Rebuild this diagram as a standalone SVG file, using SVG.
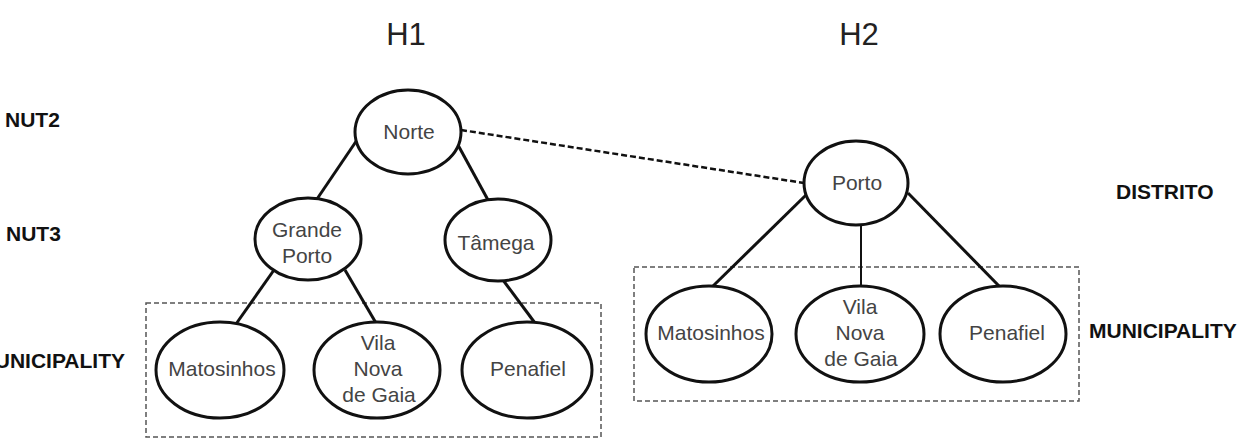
<svg xmlns="http://www.w3.org/2000/svg" width="1248" height="439" viewBox="0 0 1248 439">
<style>
.bg{fill:#ffffff}
.node ellipse{fill:#ffffff;stroke:#111;stroke-width:3}
.nt{font-family:"Liberation Sans",Arial,sans-serif;font-size:21px;fill:#444;text-anchor:middle}
.lvl{font-family:"Liberation Sans",Arial,sans-serif;font-size:21px;font-weight:bold;fill:#111}
.hd{font-family:"Liberation Sans",Arial,sans-serif;font-size:31px;fill:#222;text-anchor:middle}
.edge{stroke:#111;stroke-width:3;fill:none}
.thin{stroke-width:2}
.dash{stroke:#111;stroke-width:2.5;stroke-dasharray:6 3;fill:none}
.box{fill:none;stroke:#555;stroke-width:1.5;stroke-dasharray:5 3}
</style>
<rect class="bg" x="0" y="0" width="1248" height="439"/>
<g id="titles">
<text class="hd" x="406" y="45">H1</text>
<text class="hd" x="859" y="45">H2</text>
</g>
<g id="levels">
<text class="lvl" x="5" y="127">NUT2</text>
<text class="lvl" x="6" y="241">NUT3</text>
<text class="lvl" x="125" y="368" text-anchor="end">MUNICIPALITY</text>
<text class="lvl" x="1116" y="199">DISTRITO</text>
<text class="lvl" x="1089" y="338">MUNICIPALITY</text>
</g>
<g id="groups">
<rect class="box" x="146" y="303" width="455" height="134"/>
<rect class="box" x="634" y="267" width="445" height="134"/>
</g>
<g id="connectors">
<line class="edge" x1="357" y1="140" x2="317" y2="199"/>
<line class="edge" x1="458" y1="145" x2="488" y2="200"/>
<line class="edge" x1="274" y1="270" x2="236" y2="324"/>
<line class="edge" x1="345" y1="270" x2="376" y2="323"/>
<line class="edge" x1="503" y1="280" x2="535" y2="323"/>
<line class="edge" x1="806" y1="195" x2="712" y2="287"/>
<line class="edge thin" x1="861" y1="224" x2="861" y2="287"/>
<line class="edge" x1="908" y1="193" x2="1000" y2="287"/>
<line class="dash" x1="461" y1="130" x2="804" y2="183"/>
</g>
<g id="n-norte" class="node"><ellipse cx="408" cy="132" rx="53" ry="42"/><text class="nt" x="409" y="139">Norte</text></g>
<g id="n-grande-porto" class="node"><ellipse cx="308" cy="239" rx="53" ry="41"/><text class="nt" x="307" y="237">Grande</text><text class="nt" x="307" y="263">Porto</text></g>
<g id="n-tamega" class="node"><ellipse cx="498" cy="240" rx="53" ry="41"/><text class="nt" x="496" y="250">Tâmega</text></g>
<g id="n-matosinhos-1" class="node"><ellipse cx="220" cy="370" rx="64" ry="48"/><text class="nt" x="222" y="376">Matosinhos</text></g>
<g id="n-vila-1" class="node"><ellipse cx="377" cy="370" rx="63" ry="48"/><text class="nt" x="378" y="350">Vila</text><text class="nt" x="378" y="376">Nova</text><text class="nt" x="379" y="402">de Gaia</text></g>
<g id="n-penafiel-1" class="node"><ellipse cx="527" cy="370" rx="65" ry="48"/><text class="nt" x="528" y="376">Penafiel</text></g>
<g id="n-porto" class="node"><ellipse cx="856" cy="183" rx="52" ry="42"/><text class="nt" x="857" y="190">Porto</text></g>
<g id="n-matosinhos-2" class="node"><ellipse cx="709" cy="334" rx="63" ry="48"/><text class="nt" x="711" y="340">Matosinhos</text></g>
<g id="n-vila-2" class="node"><ellipse cx="860" cy="334" rx="64" ry="48"/><text class="nt" x="860" y="314">Vila</text><text class="nt" x="860" y="340">Nova</text><text class="nt" x="861" y="366">de Gaia</text></g>
<g id="n-penafiel-2" class="node"><ellipse cx="1003" cy="334" rx="63" ry="48"/><text class="nt" x="1007" y="340">Penafiel</text></g>
</svg>
